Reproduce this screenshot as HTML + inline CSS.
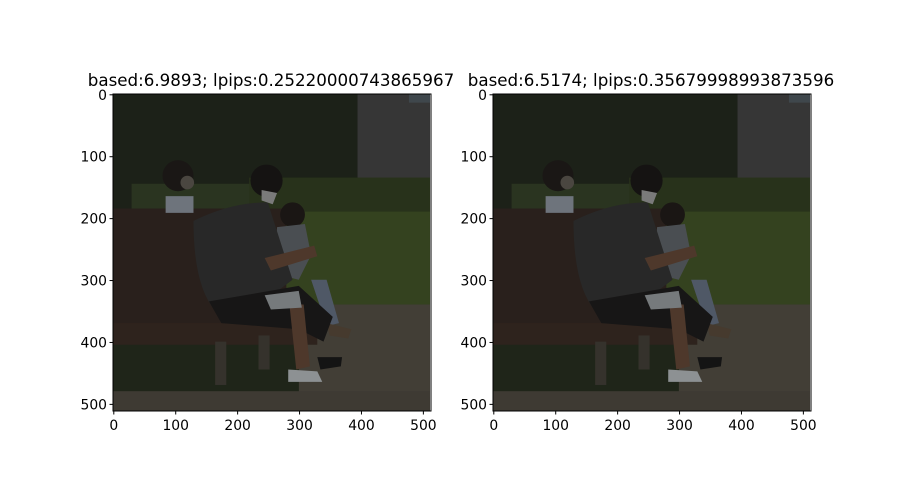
<!DOCTYPE html>
<html><head><meta charset="utf-8"><style>
html,body{margin:0;padding:0;background:#fff;}
svg{display:block;font-family:"DejaVu Sans","Liberation Sans",sans-serif;}
</style></head><body>
<svg width="900" height="500" viewBox="0 0 900 500">
<defs>
<g id="scene">
  <rect x="0" y="0" width="512" height="512" fill="#1c2118"/>
  <rect x="395" y="0" width="117" height="145" fill="#363636"/>
  <rect x="478" y="0" width="34" height="14" fill="#3f474c"/>
  <rect x="30" y="145" width="482" height="50" fill="#2a3420"/>
  <rect x="220" y="135" width="292" height="55" fill="#28321b"/>
  <rect x="100" y="190" width="412" height="150" fill="#34421f"/>
  <rect x="300" y="340" width="212" height="150" fill="#423e36"/>
  <rect x="0" y="395" width="300" height="90" fill="#1f2519"/>
  <rect x="0" y="480" width="512" height="32" fill="#3e3a33"/>
  <rect x="0" y="185" width="280" height="195" fill="#29201c"/>
  <rect x="0" y="370" width="330" height="35" fill="#2e231d"/>
  <rect x="165" y="400" width="18" height="70" fill="#35322c"/>
  <rect x="235" y="390" width="18" height="55" fill="#35322c"/>
  <circle cx="105" cy="132" r="25" fill="#1a1715"/>
  <circle cx="120" cy="143" r="11" fill="#4a4640"/>
  <rect x="85" y="165" width="45" height="27" fill="#6e747c"/>
  <path d="M320 300 L345 300 L365 370 L345 375 Z" fill="#4f5866"/>
  <path d="M345 370 L385 380 L380 395 L350 390 Z" fill="#463a2e"/>
  <circle cx="290" cy="195" r="20" fill="#1a1614"/>
  <path d="M265 215 L310 210 L320 260 L300 300 L260 290 Z" fill="#4a4e52"/>
  <path d="M130 205 Q190 175 250 175 L290 300 L250 330 L165 350 Q130 310 130 205 Z" fill="#282828"/>
  <path d="M155 335 L300 310 L355 360 L340 400 L300 380 L175 370 Z" fill="#171616"/>
  <path d="M285 340 L308 340 L318 440 L296 445 Z" fill="#4e382b"/>
  <path d="M245 265 L325 245 L330 262 L255 285 Z" fill="#4e382b"/>
  <circle cx="248" cy="140" r="26" fill="#151312"/>
  <path d="M240 155 L265 160 L258 178 L240 172 Z" fill="#7a7a7a"/>
  <path d="M245 325 L300 318 L305 345 L255 348 Z" fill="#767a7c"/>
  <path d="M283 445 L330 448 L338 465 L283 465 Z" fill="#8d9193"/>
  <path d="M330 425 L370 425 L368 440 L335 445 Z" fill="#141414"/>
</g>
</defs>

<text x="271" y="86" text-anchor="middle" font-size="16.7" fill="#000">based:6.9893; lpips:0.25220000743865967</text>
<text x="651" y="86" text-anchor="middle" font-size="16.7" fill="#000">based:6.5174; lpips:0.35679998993873596</text>

<g transform="translate(113,94) scale(0.6191)"><use href="#scene"/></g>
<g transform="translate(493,94) scale(0.6191)"><use href="#scene"/></g>

<rect x="113" y="94" width="318" height="317" fill="none" stroke="#000" stroke-width="1"/>
<rect x="493" y="94" width="318" height="317" fill="none" stroke="#000" stroke-width="1"/>

<g id="ticks" font-size="13.9" fill="#000"></g>
<script>
const tickValues = [0,100,200,300,400,500];
const panels = [{x0:113},{x0:493}];
const g = document.getElementById('ticks');
const ns = 'http://www.w3.org/2000/svg';
const s = 317/512;
panels.forEach((p,pi)=>{
  tickValues.forEach(v=>{
    const x = p.x0 + 0.5 + v*s + 0.3;
    const y = 94 + 0.5 + v*s + 0.3;
    const lx = document.createElementNS(ns,'line');
    
    
    lx.setAttribute('x1',x);lx.setAttribute('x2',x);lx.setAttribute('y1',411);lx.setAttribute('y2',414.5);lx.setAttribute('stroke','#000');
    g.appendChild(lx);
    const tx = document.createElementNS(ns,'text');
    
    
    tx.setAttribute('x',x);tx.setAttribute('y',430);tx.setAttribute('text-anchor','middle');tx.textContent=v;
    g.appendChild(tx);
    const ly = document.createElementNS(ns,'line');
    
    
    ly.setAttribute('x1',p.x0-3.5);ly.setAttribute('x2',p.x0);ly.setAttribute('y1',y);ly.setAttribute('y2',y);ly.setAttribute('stroke','#000');
    g.appendChild(ly);
    const ty = document.createElementNS(ns,'text');
    
    
    ty.setAttribute('x',p.x0-6);ty.setAttribute('y',y+5);ty.setAttribute('text-anchor','end');ty.textContent=v;
    g.appendChild(ty);
  });
});
</script>
</svg>
</body></html>
